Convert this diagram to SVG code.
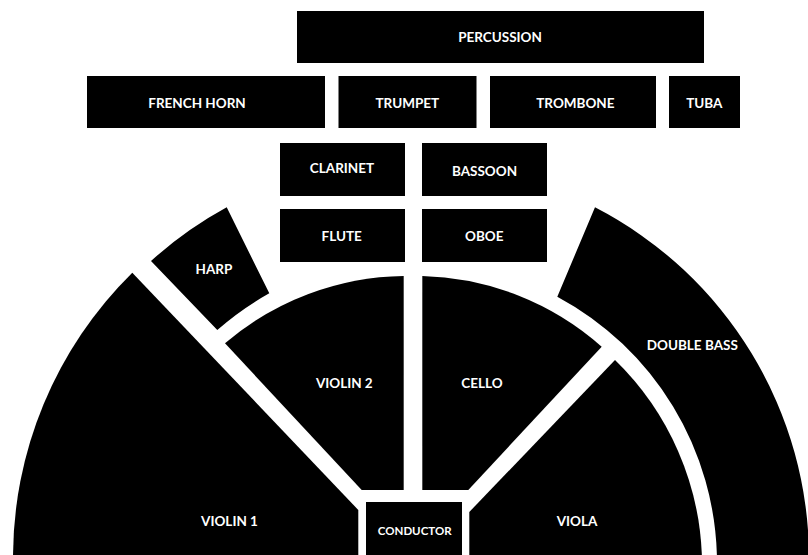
<svg xmlns="http://www.w3.org/2000/svg" width="808" height="555" viewBox="0 0 808 555">
<style>
.s{fill:#000}
.t{fill:#fff;font-family:Lato,"Noto Sans",sans-serif;font-weight:700;font-size:13.5px;text-anchor:middle}
.c{font-size:11.5px}
</style>
<rect width="808" height="555" fill="#fff"/>
<g id="percussion"><rect class="s" x="297" y="11" width="407" height="52"/><text class="t" x="500" y="42">PERCUSSION</text></g>
<g id="french-horn"><rect class="s" x="87" y="76" width="238" height="52"/><text class="t" x="197" y="107.7">FRENCH HORN</text></g>
<g id="trumpet"><rect class="s" x="338.5" y="76" width="138" height="52"/><text class="t" x="407.3" y="107.7">TRUMPET</text></g>
<g id="trombone"><rect class="s" x="490" y="76" width="166" height="52"/><text class="t" x="575.4" y="107.7">TROMBONE</text></g>
<g id="tuba"><rect class="s" x="669" y="76" width="71" height="52"/><text class="t" x="704.3" y="107.7">TUBA</text></g>
<g id="clarinet"><rect class="s" x="280" y="143" width="125" height="53"/><text class="t" x="342" y="173">CLARINET</text></g>
<g id="bassoon"><rect class="s" x="422" y="143" width="125" height="53"/><text class="t" x="484.5" y="175.7">BASSOON</text></g>
<g id="flute"><rect class="s" x="280" y="209" width="125" height="53"/><text class="t" x="341.7" y="241.4">FLUTE</text></g>
<g id="oboe"><rect class="s" x="422" y="209" width="125" height="53"/><text class="t" x="484.3" y="241.4">OBOE</text></g>
<g id="harp"><path class="s" d="M151,261 A395,395 0 0 1 226.7,207.3 L269.3,293.3 A300,300 0 0 0 217.3,330 Z"/><text class="t" x="214" y="274.2">HARP</text></g>
<g id="violin-1"><path class="s" d="M13,560 A400,400 0 0 1 132.3,272.7 L358.3,510 L358.3,560 Z"/><text class="t" x="229.5" y="525.7">VIOLIN 1</text></g>
<g id="violin-2"><path class="s" d="M225,343.3 A281,281 0 0 1 403.7,276 L403.7,490 L361.7,490 Z"/><text class="t" x="344.3" y="388">VIOLIN 2</text></g>
<g id="cello"><path class="s" d="M422.3,276 A281,281 0 0 1 601.7,346.7 L468.3,490 L422.3,490 Z"/><text class="t" x="482" y="388">CELLO</text></g>
<g id="viola"><path class="s" d="M615,360 A287,287 0 0 1 702,560 L469.3,560 L469.3,512 Z"/><text class="t" x="577" y="525.7">VIOLA</text></g>
<g id="double-bass"><path class="s" d="M595,207.3 A395,395 0 0 1 809,560 L717,560 A303,303 0 0 0 557.3,296.7 Z"/><text class="t" x="692.3" y="350">DOUBLE BASS</text></g>
<g id="conductor"><rect class="s" x="366" y="502" width="96" height="60"/><text class="t c" x="414.7" y="535">CONDUCTOR</text></g>
</svg>
